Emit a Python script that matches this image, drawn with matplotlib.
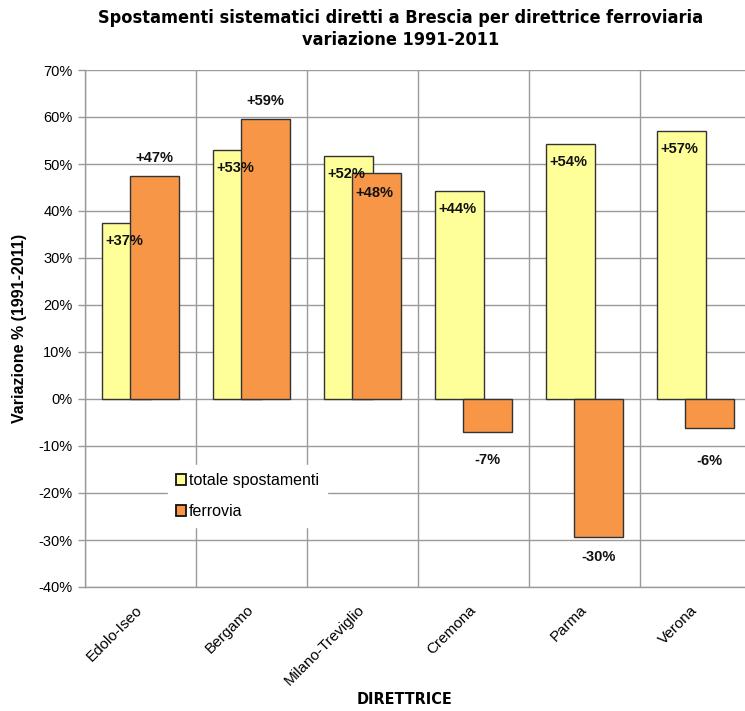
import matplotlib
matplotlib.use('Agg')
import matplotlib.pyplot as plt
import numpy as np
from matplotlib.ticker import MultipleLocator, FuncFormatter

plt.rcParams['font.family'] = ['Liberation Sans', 'DejaVu Sans']

# -- data ---------------------------------------------------------------------
direttrici = ['Edolo-Iseo', 'Bergamo', 'Milano-Treviglio',
              'Cremona', 'Parma', 'Verona']
totale     = [37.4, 53.0, 51.7, 44.2, 54.2, 57.1]
ferrovia   = [47.4, 59.5, 48.0, -7.1, -29.4, -6.1]
lab_tot    = ['+37%', '+53%', '+52%', '+44%', '+54%', '+57%']
lab_fer    = ['+47%', '+59%', '+48%', '-7%', '-30%', '-6%']

# label placement for the ferrovia series (Excel labels moved by hand)
fer_mode = ['above', 'above', 'inside', 'below', 'below', 'below']
fer_dy   = [18, 18, -20, -28, -20, -33]   # pixels

YELLOW = '#FFFF99'
ORANGE = '#F79646'
EDGE   = '#333333'
GRID   = '#9a9a9a'
NARROW = dict(family='DejaVu Sans', stretch='condensed')

fig = plt.figure(figsize=(7.45, 7.11), dpi=100)
ax = fig.add_axes([85 / 745, 1 - 587 / 711, 666 / 745, 517 / 711])

x = np.arange(len(direttrici))
w, off = 0.44, 0.126
b1 = ax.bar(x - off, totale, w, color=YELLOW, edgecolor=EDGE, linewidth=1.0,
            zorder=3, label='totale spostamenti')
b2 = ax.bar(x + off, ferrovia, w, color=ORANGE, edgecolor=EDGE, linewidth=1.0,
            zorder=4, label='ferrovia')

ax.set_xlim(-0.5, len(direttrici) - 0.5)
ax.set_ylim(-40, 70)
ax.yaxis.set_major_locator(MultipleLocator(10))
ax.yaxis.set_major_formatter(FuncFormatter(lambda v, p: f'{v:.0f}%'))
ax.set_xticks(x)
ax.set_xticklabels(direttrici, rotation=45, ha='right', va='center',
                   rotation_mode='anchor', fontsize=11)
ax.set_xticks(np.arange(len(direttrici) + 1) - 0.5, minor=True)
ax.tick_params(axis='x', which='major', length=0, pad=15)
ax.tick_params(axis='x', which='minor', length=0)
ax.tick_params(axis='y', length=5, width=1, color=GRID, labelsize=10.5, pad=4)

ax.grid(True, which='minor', axis='x', color=GRID, linewidth=1.0, zorder=0)
ax.grid(True, which='major', axis='y', color=GRID, linewidth=1.0, zorder=0)
ax.set_axisbelow(True)
for s in ['top', 'right']:
    ax.spines[s].set_visible(False)
for s in ['left', 'bottom']:
    ax.spines[s].set_color(GRID)
    ax.spines[s].set_linewidth(1.0)

# data labels
lab_kw = dict(textcoords='offset pixels', va='center', fontsize=10.5,
              fontweight='bold', color='#111111', zorder=6)
for rect, txt in zip(b1, lab_tot):
    ax.annotate(txt, (rect.get_x(), rect.get_height()),
                xytext=(3, -18), ha='left', **lab_kw)
for rect, txt, mode, dy in zip(b2, lab_fer, fer_mode, fer_dy):
    top = max(rect.get_y(), rect.get_y() + rect.get_height())
    bottom = min(rect.get_y(), rect.get_y() + rect.get_height())
    if mode == 'inside':
        ax.annotate(txt, (rect.get_x(), top), xytext=(3, dy),
                    ha='left', **lab_kw)
    else:
        yv = top if mode == 'above' else bottom
        ax.annotate(txt, (rect.get_x() + rect.get_width() / 2, yv),
                    xytext=(0, dy), ha='center', **lab_kw)

leg = ax.legend(loc='upper left', bbox_to_anchor=((168 - 85) / 666, (587 - 465) / 517),
                frameon=True, fancybox=False, framealpha=1.0, edgecolor='white',
                fontsize=11.5, handlelength=0.65, handleheight=0.65,
                handletextpad=0.15, labelspacing=1.0, borderpad=0.5,
                borderaxespad=0)
leg.set_zorder(5)
for h in leg.legend_handles:
    h.set_edgecolor('#111111')
    h.set_linewidth(1.3)

ax.set_ylabel('Variazione % (1991-2011)', fontsize=11.5, fontweight='bold',
              labelpad=8)
fig.text(404 / 745, 1 - 699 / 711, 'DIRETTRICE', ha='center', va='center',
         fontsize=11.5, fontweight='bold', **NARROW)
fig.text(401 / 745, 1 - 29 / 711,
         'Spostamenti sistematici diretti a Brescia per direttrice ferroviaria\nvariazione 1991-2011',
         ha='center', va='center', fontsize=13, fontweight='bold',
         linespacing=1.35, **NARROW)

fig.savefig('out.png', dpi=100)
